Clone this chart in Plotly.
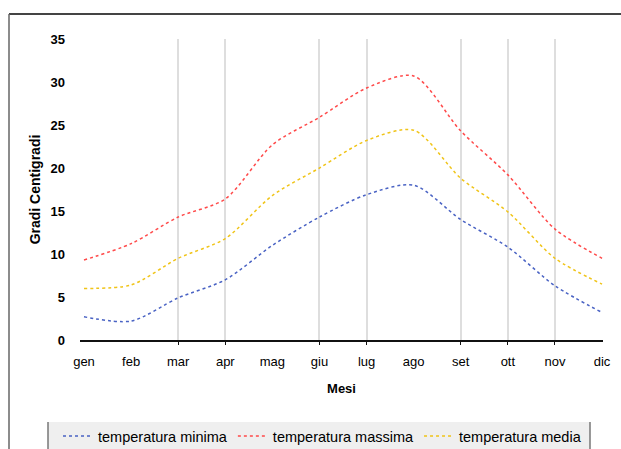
import plotly.graph_objects as go

mesi = ["gen", "feb", "mar", "apr", "mag", "giu", "lug", "ago", "set", "ott", "nov", "dic"]
t_min = [2.7, 2.2, 4.9, 7.0, 11.0, 14.3, 16.9, 18.0, 14.0, 10.8, 6.3, 3.2]
t_max = [9.3, 11.2, 14.3, 16.4, 22.7, 25.9, 29.3, 30.7, 24.3, 19.2, 12.9, 9.5]
t_med = [6.0, 6.4, 9.5, 11.8, 16.8, 20.0, 23.2, 24.4, 18.8, 14.9, 9.5, 6.5]
grid_mesi = ["mar", "apr", "giu", "lug", "set", "ott", "nov"]

W, H = 621, 449
L, R, T, B = 80, 18, 39, 109
pw, ph = W - L - R, H - T - B

def px(x):
    return (x - L) / pw

def py(y):
    return (H - B - y) / ph

xs = list(range(len(mesi)))
grid_x = [mesi.index(m) for m in grid_mesi]
xr = [-0.085, 11.02]

fig = go.Figure()
series = [
    ("temperatura minima", t_min, "#4a63c4"),
    ("temperatura massima", t_max, "#ff4a4a"),
    ("temperatura media", t_med, "#f0c418"),
]
for name, vals, col in series:
    fig.add_trace(go.Scatter(x=xs, y=vals, name=name, mode="lines",
                             line=dict(color=col, width=1.5, dash="dot", shape="spline", smoothing=0.8)))

# invisible trace for the grid axis
fig.add_trace(go.Scatter(x=[xr[0]], y=[0], xaxis="x2", showlegend=False, mode="markers",
                         marker=dict(opacity=0), hoverinfo="skip"))

font = "Liberation Sans, Arial, sans-serif"
fig.update_layout(
    width=W, height=H,
    margin=dict(l=L, r=R, t=T, b=B, autoexpand=False),
    paper_bgcolor="white", plot_bgcolor="white",
    font=dict(family=font, color="#000", size=12),
    showlegend=True,
    legend=dict(orientation="h", x=px(58), xanchor="left", y=py(436), yanchor="middle",
                bgcolor="rgba(0,0,0,0)", font=dict(size=14.5, family=font), itemwidth=30,
                tracegroupgap=0),
    xaxis=dict(range=xr, tickvals=xs, ticktext=mesi, showgrid=False, zeroline=False,
               showline=True, linecolor="#111", linewidth=1.5, ticks="",
               tickfont=dict(size=13, family=font), ticklabelstandoff=9,
               title=dict(text="<b>Mesi</b>", font=dict(size=13, family=font), standoff=16)),
    xaxis2=dict(range=xr, overlaying="x", side="bottom", tickvals=grid_x, showticklabels=False,
                showgrid=True, gridcolor="#dedede", gridwidth=1.5, ticks="outside", ticklen=4,
                tickcolor="#111", zeroline=False, showline=False),
    yaxis=dict(range=[0, 35], dtick=5, showgrid=False, zeroline=False, showline=False,
               tickfont=dict(size=13, family=font, weight="bold"), ticks="", ticklabelstandoff=14,
               title=dict(text="<b>Gradi Centigradi</b>", font=dict(size=14, family=font), standoff=6)),
    shapes=[
        dict(type="rect", xref="paper", yref="paper", x0=px(48), x1=px(590), y0=py(422), y1=py(449),
             fillcolor="#efefef", line=dict(width=0), layer="below"),
        dict(type="line", xref="paper", yref="paper", x0=px(48), x1=px(48), y0=py(422), y1=py(449),
             line=dict(color="#777", width=1.5)),
        dict(type="line", xref="paper", yref="paper", x0=px(590), x1=px(590), y0=py(422), y1=py(449),
             line=dict(color="#777", width=1.5)),
        dict(type="line", xref="paper", yref="paper", x0=px(9), x1=px(621), y0=py(14), y1=py(14),
             line=dict(color="#444", width=2)),
        dict(type="line", xref="paper", yref="paper", x0=px(9), x1=px(9), y0=py(14), y1=py(449),
             line=dict(color="#666", width=1.5)),
    ],
)

fig.write_html("out.html")
